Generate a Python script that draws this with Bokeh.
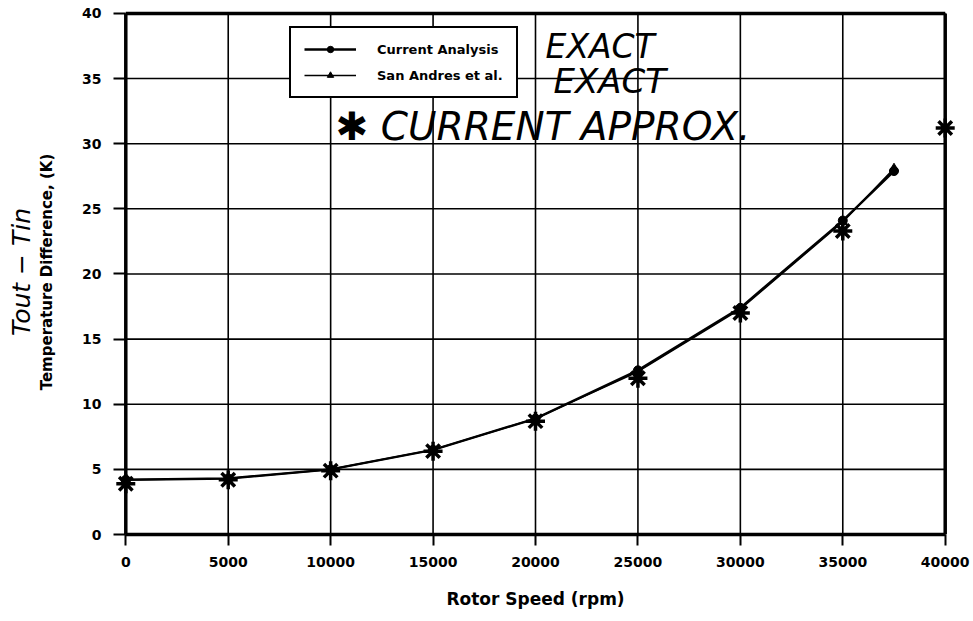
from bokeh.plotting import figure
from bokeh.models import Range1d, FixedTicker, Legend, LegendItem, Label, LinearAxis
from bokeh.embed import file_html
from bokeh.resources import INLINE

# ---------------- data ----------------
x_ticks = [0, 5000, 10000, 15000, 20000, 25000, 30000, 35000, 40000]
y_ticks = [0, 5, 10, 15, 20, 25, 30, 35, 40]

speed_exact = [0, 5000, 10000, 15000, 20000, 25000, 30000, 35000, 37500]
current_analysis = [4.2, 4.3, 5.0, 6.5, 8.9, 12.6, 17.4, 24.1, 27.9]
san_andres = [4.2, 4.3, 5.0, 6.5, 8.9, 12.5, 17.3, 24.0, 28.1]

speed_approx = [0, 5000, 10000, 15000, 20000, 25000, 30000, 35000, 40000]
current_approx = [3.9, 4.2, 4.9, 6.4, 8.7, 12.0, 17.0, 23.3, 31.2]

FONT = "DejaVu Sans"

p = figure(width=970, height=618,
           x_range=Range1d(-600, 40600), y_range=Range1d(0, 40.3),
           output_backend="svg", toolbar_location=None,
           min_border_left=113, min_border_right=13,
           min_border_top=9, min_border_bottom=84)
p.xgrid.visible = False
p.ygrid.visible = False
p.outline_line_color = None
p.background_fill_color = "white"
p.border_fill_color = "white"

# grid lines derived from the tick arrays
x0, x1 = x_ticks[0], x_ticks[-1]
y0, y1 = y_ticks[0], y_ticks[-1]
p.segment(x0=x_ticks, y0=[y0] * len(x_ticks), x1=x_ticks, y1=[y1] * len(x_ticks),
          line_color="black", line_width=1.6)
p.segment(x0=[x0] * len(y_ticks), y0=y_ticks, x1=[x1] * len(y_ticks), y1=y_ticks,
          line_color="black", line_width=1.6)
# heavy frame (left, right and top)
p.segment(x0=[x0, x1, x0], y0=[y0, y0, y1], x1=[x0, x1, x1], y1=[y1, y1, y1],
          line_color="black", line_width=3.5)

# series
l1 = p.line(speed_exact, current_analysis, line_color="black", line_width=2.4)
s1 = p.scatter(speed_exact, current_analysis, marker="circle", size=9,
               fill_color="black", line_color="black")
l2 = p.line(speed_exact, san_andres, line_color="black", line_width=1.6)
s2 = p.scatter(speed_exact, san_andres, marker="triangle", size=9,
               fill_color="black", line_color="black")
p.scatter(speed_approx, current_approx, marker="asterisk", size=19,
          line_color="black", line_width=3.5)

# axes
for ax in (p.xaxis[0], p.yaxis[0]):
    ax.major_label_text_font = FONT
    ax.major_label_text_font_style = "bold"
    ax.major_label_text_font_size = "14px"
    ax.major_label_text_color = "black"
    ax.major_tick_line_width = 2
    ax.major_tick_line_color = "black"
    ax.minor_tick_line_color = None
    ax.axis_label_text_font = FONT
    ax.axis_label_text_font_style = "bold"
    ax.axis_label_text_color = "black"

xa = p.xaxis[0]
xa.ticker = FixedTicker(ticks=x_ticks)
xa.bounds = (x0, x1)
xa.major_tick_in = 0
xa.major_tick_out = 11
xa.axis_line_width = 3.5
xa.axis_line_color = "black"
xa.major_label_standoff = 11
xa.axis_label = "Rotor Speed (rpm)"
xa.axis_label_text_font_size = "17px"
xa.axis_label_standoff = 19

ya = p.yaxis[0]
ya.ticker = FixedTicker(ticks=y_ticks)
ya.major_tick_in = 12
ya.major_tick_out = 0
ya.axis_line_color = None
ya.major_label_standoff = 12
ya.axis_label = "Temperature Difference, (K)"
ya.axis_label_text_font_size = "15px"
ya.axis_label_standoff = 23

# handwritten y label as an outer, tick-less axis
hw = LinearAxis(axis_label="Tout − Tin", ticker=FixedTicker(ticks=[]),
                major_label_text_font_size="0px", major_label_standoff=0,
                major_tick_line_color=None, minor_tick_line_color=None,
                major_tick_out=0, major_tick_in=0, axis_line_color=None,
                axis_label_standoff=0, axis_label_text_font=FONT,
                axis_label_text_font_style="italic", axis_label_text_font_size="25px",
                axis_label_text_color="black")
p.add_layout(hw, "left")

# legend
legend = Legend(items=[LegendItem(label="Current Analysis", renderers=[l1, s1]),
                       LegendItem(label="San Andres et al.", renderers=[l2, s2])],
                location=(176, 436))
legend.border_line_color = "black"
legend.border_line_alpha = 1
legend.border_line_width = 2.5
legend.background_fill_color = "white"
legend.background_fill_alpha = 1
legend.label_text_font = FONT
legend.label_text_font_style = "bold"
legend.label_text_font_size = "13px"
legend.label_text_color = "black"
legend.glyph_width = 52
legend.glyph_height = 16
legend.label_standoff = 21
legend.padding = 13
legend.spacing = 10
legend.margin = 0
p.add_layout(legend)

# handwritten annotations
hand = dict(text_font=FONT, text_font_style="italic", text_color="black",
            text_baseline="middle", text_align="left")
p.add_layout(Label(x=20490, y=37.45, text="EXACT", text_font_size="33px", **hand))
p.add_layout(Label(x=20880, y=34.8, text="EXACT", text_font_size="34px", **hand))
p.add_layout(Label(x=10250, y=31.3, text="✱ CURRENT APPROX.", text_font_size="39px", **hand))

open("out.html", "w").write(file_html(p, INLINE))
